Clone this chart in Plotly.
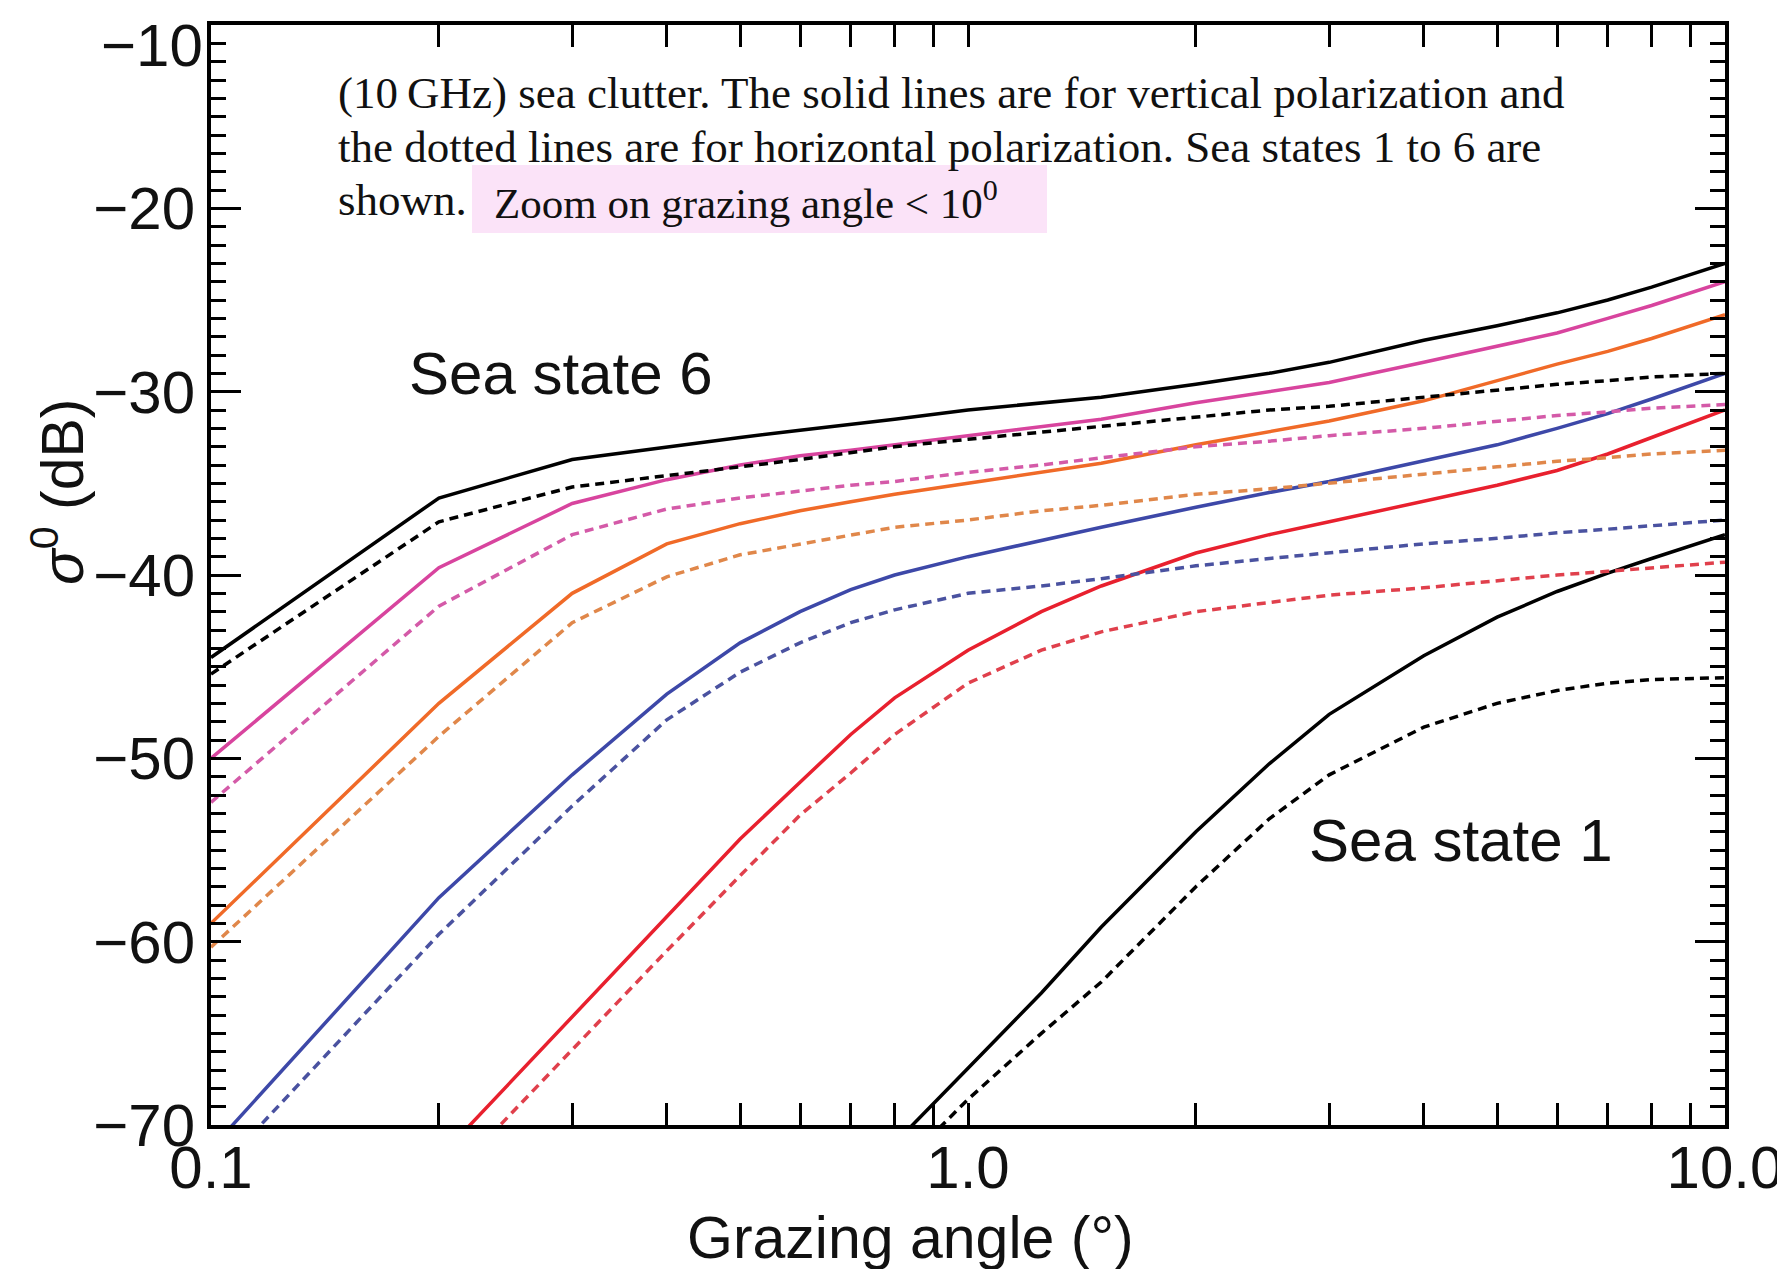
import plotly.graph_objects as go

# Grazing angle (degrees) sample points
angles = [0.1, 0.2, 0.3, 0.4, 0.5, 0.6, 0.7, 0.8, 1.0, 1.25, 1.5, 2.0, 2.5, 3.0, 4.0, 5.0, 6.0, 7.0, 8.0, 10.0]

# sigma0 (dB); V = vertical polarization (solid), H = horizontal polarization (dotted)
ss6_v = [-44.5, -35.8, -33.7, -33.0, -32.5, -32.1, -31.8, -31.5, -31.0, -30.6, -30.3, -29.6, -29.0, -28.4, -27.2, -26.4, -25.7, -25.0, -24.3, -23.0]
ss6_h = [-45.4, -37.1, -35.2, -34.6, -34.1, -33.7, -33.3, -33.0, -32.6, -32.2, -31.9, -31.4, -31.0, -30.8, -30.3, -29.9, -29.6, -29.4, -29.2, -29.0]
ss5_v = [-50.0, -39.6, -36.1, -34.8, -34.0, -33.5, -33.2, -32.9, -32.4, -31.9, -31.5, -30.6, -30.0, -29.5, -28.4, -27.5, -26.8, -26.0, -25.3, -24.0]
ss5_h = [-52.4, -41.7, -37.8, -36.4, -35.8, -35.4, -35.1, -34.9, -34.4, -34.0, -33.6, -33.0, -32.7, -32.4, -32.0, -31.6, -31.3, -31.1, -30.9, -30.7]
ss4_v = [-59.0, -47.0, -41.0, -38.3, -37.2, -36.5, -36.0, -35.6, -35.0, -34.4, -33.9, -32.9, -32.2, -31.6, -30.5, -29.4, -28.5, -27.8, -27.1, -25.8]
ss4_h = [-60.3, -48.8, -42.6, -40.1, -38.9, -38.3, -37.8, -37.4, -37.0, -36.5, -36.2, -35.6, -35.3, -35.0, -34.5, -34.1, -33.8, -33.6, -33.4, -33.2]
ss3_v = [-71.3, -57.6, -50.9, -46.5, -43.7, -42.0, -40.8, -40.0, -39.0, -38.1, -37.4, -36.3, -35.5, -34.9, -33.8, -32.9, -32.0, -31.2, -30.4, -29.0]
ss3_h = [-72.9, -59.6, -52.6, -47.9, -45.3, -43.7, -42.6, -41.9, -41.0, -40.6, -40.2, -39.5, -39.1, -38.8, -38.3, -38.0, -37.7, -37.5, -37.3, -37.0]
ss2_v = [None, -71.8, -64.1, -58.6, -54.4, -51.3, -48.7, -46.7, -44.1, -42.0, -40.6, -38.8, -37.8, -37.1, -36.0, -35.1, -34.3, -33.4, -32.5, -31.0]
ss2_h = [None, -73.5, -65.9, -60.5, -56.4, -53.1, -50.8, -48.7, -45.9, -44.1, -43.1, -42.0, -41.5, -41.1, -40.7, -40.3, -40.0, -39.8, -39.6, -39.3]
ss1_v = [None, None, None, None, None, None, -73.3, -71.0, -66.9, -62.8, -59.2, -54.0, -50.3, -47.6, -44.4, -42.3, -40.9, -39.9, -39.1, -37.8]
ss1_h = [None, None, None, None, None, None, -74.6, -72.6, -68.6, -65.0, -62.2, -57.0, -53.3, -50.9, -48.3, -47.0, -46.3, -45.9, -45.7, -45.6]

x_tickvals = [0.1, 1.0, 10.0]
x_ticktext = ["0.1", "1.0", "10.0"]
x_minor = [0.2, 0.3, 0.4, 0.5, 0.6, 0.7, 0.8, 0.9, 2, 3, 4, 5, 6, 7, 8, 9]
y_tickvals = [-70, -60, -50, -40, -30, -20, -10]
# the top label (-10) is drawn separately, nudged down like in the reference
y_ticktext = ["\u221270", "\u221260", "\u221250", "\u221240", "\u221230", "\u221220", ""]
y_top_label = "\u221210"

series = [
    (ss1_h, "#000000", True), (ss1_v, "#000000", False),
    (ss2_h, "#e0404c", True), (ss2_v, "#e8202e", False),
    (ss3_h, "#4a52a0", True), (ss3_v, "#3d48a8", False),
    (ss4_h, "#e0874a", True), (ss4_v, "#f06a28", False),
    (ss5_h, "#d45aa8", True), (ss5_v, "#d8449e", False),
    (ss6_h, "#000000", True), (ss6_v, "#000000", False),
]

fig = go.Figure()
for vals, col, dashed in series:
    fig.add_trace(go.Scatter(
        x=angles, y=vals, mode="lines",
        line=dict(color=col, width=3.5, dash="9px,6px" if dashed else "solid"),
        showlegend=False, hoverinfo="skip"))

tick_font = dict(family="Liberation Sans, Arial, sans-serif", size=60, color="#111")
fig.update_xaxes(
    type="log", range=[-1, 1],
    tickvals=x_tickvals, ticktext=x_ticktext,
    ticks="inside", ticklen=22, tickwidth=3, tickcolor="#000",
    minor=dict(tickvals=x_minor, ticks="inside", ticklen=22, tickwidth=3, tickcolor="#000", showgrid=False),
    showline=True, linewidth=4, linecolor="#000", mirror="allticks",
    showgrid=False, zeroline=False, tickfont=tick_font,
    ticklabeloverflow="allow", ticklabelstandoff=-13, automargin=False,
)
fig.update_yaxes(
    range=[-70, -10],
    tickvals=y_tickvals, ticktext=y_ticktext,
    ticks="inside", ticklen=30, tickwidth=3, tickcolor="#000",
    minor=dict(dtick=1, ticks="inside", ticklen=15, tickwidth=3, tickcolor="#000", showgrid=False),
    showline=True, linewidth=4, linecolor="#000", mirror="allticks",
    showgrid=False, zeroline=False, tickfont=tick_font,
    ticklabeloverflow="allow", automargin=False,
)

sans = "Liberation Sans, Arial, sans-serif"
serif = "Liberation Serif, Times New Roman, serif"
common = dict(xref="paper", yref="paper", showarrow=False, yanchor="middle")
annotations = [
    dict(text=y_top_label, x=-0.004, y=0.981, xanchor="right", font=tick_font, **common),
    dict(text="Grazing angle (\u00b0)", x=0.4623, y=-0.1030, xanchor="center",
         font=dict(family=sans, size=59, color="#111"), **common),
    dict(text="<i>\u03c3</i><sup>0</sup> (dB)", x=-0.1004, y=0.5755, xanchor="center",
         textangle=-90, font=dict(family=sans, size=59, color="#111"), **common),
    dict(text="Sea state 6", x=0.1295, y=0.6836, xanchor="left",
         font=dict(family=sans, size=60, color="#111"), **common),
    dict(text="Sea state 1", x=0.7239, y=0.259, xanchor="left",
         font=dict(family=sans, size=60, color="#111"), **common),
    dict(text="(10\u2009GHz) sea clutter. The solid lines are for vertical polarization and",
         x=0.0826, y=0.9382, xanchor="left", font=dict(family=serif, size=45, color="#111"), **common),
    dict(text="the dotted lines are for horizontal polarization. Sea states 1 to 6 are",
         x=0.0826, y=0.8891, xanchor="left", font=dict(family=serif, size=45, color="#111"), **common),
    dict(text="shown.", x=0.0826, y=0.8409, xanchor="left",
         font=dict(family=serif, size=45, color="#111"), **common),
    dict(text="Zoom on grazing angle &lt; 10<sup>0</sup>", x=0.1856, y=0.8409, xanchor="left",
         font=dict(family=serif, size=43, color="#111"), **common),
]

# page body has an 8px default margin; size the figure so the plot frame lands where the reference has it
fig.update_layout(
    width=1769, height=1261,
    margin=dict(l=203, r=52, t=17, b=144, autoexpand=False),
    paper_bgcolor="white", plot_bgcolor="white",
    annotations=annotations,
    shapes=[dict(type="rect", xref="paper", yref="paper", x0=0.1724, x1=0.5522, y0=0.8109, y1=0.8727,
                 fillcolor="#fbe3f8", line=dict(width=0), layer="below")],
)

fig.write_html("out.html")
